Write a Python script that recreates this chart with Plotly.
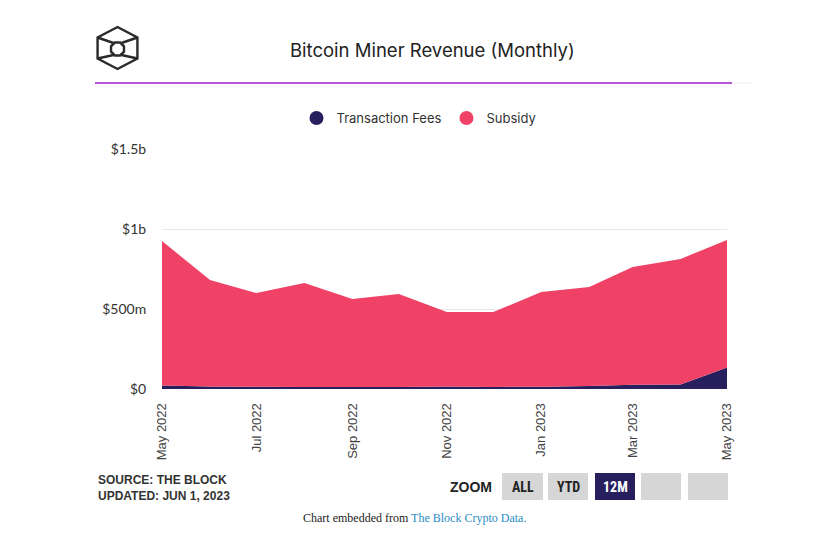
import plotly.graph_objects as go
import math

months = ["2022-05-01", "2022-06-01", "2022-07-01", "2022-08-01", "2022-09-01",
          "2022-10-01", "2022-11-01", "2022-12-01", "2023-01-01", "2023-02-01",
          "2023-03-01", "2023-04-01", "2023-05-01"]
# monthly totals (USD) and fees
totals = [925e6, 681e6, 600e6, 663e6, 563e6, 594e6, 481e6, 481e6, 606e6, 638e6, 763e6, 813e6, 931e6]
fees = [22e6, 16e6, 14e6, 12e6, 12e6, 12e6, 15e6, 13e6, 14e6, 18e6, 27e6, 28e6, 135e6]
subsidy = [t - f for t, f in zip(totals, fees)]

y_tickvals = [0, 5e8, 1e9, 1.5e9]
y_ticktext = ["$0", "$500m", "$1b", "$1.5b"]

NAVY = "#28205e"
PINK = "#ef4266"

OFF = 8  # page body margin
W, H = 829 - OFF, 553 - OFF
L, R, T, B = 162, 727, 149, 389  # screen pixel positions of the plot area


def xp(px):
    return (px - L) / (R - L)


def yp(py):
    return (B - py) / (B - T)


fig = go.Figure()
fig.add_trace(go.Scatter(x=months, y=fees, name="Transaction Fees", stackgroup="one",
                         mode="none", fillcolor=NAVY, showlegend=False, hoverinfo="skip"))
fig.add_trace(go.Scatter(x=months, y=subsidy, name="Subsidy", stackgroup="one",
                         mode="none", fillcolor=PINK, showlegend=False, hoverinfo="skip"))
# legend markers
fig.add_trace(go.Scatter(x=[None], y=[None], mode="markers", name="Transaction Fees",
                         marker=dict(color=NAVY, size=14, symbol="circle")))
fig.add_trace(go.Scatter(x=[None], y=[None], mode="markers", name="Subsidy",
                         marker=dict(color=PINK, size=14, symbol="circle")))

shapes = []
# purple divider
shapes.append(dict(type="line", xref="paper", yref="paper", x0=xp(732), x1=xp(752), y0=yp(83), y1=yp(83),
                   line=dict(color="#eeeeee", width=1)))
shapes.append(dict(type="line", xref="paper", yref="paper", x0=xp(95), x1=xp(732), y0=yp(83), y1=yp(83),
                   line=dict(color="#b455d8", width=2)))

# logo
LOGO = "#2a2a2a"
cx, cy, rx, ry = 117.5, 48, 23, 21
outer = [(cx + rx * math.cos(math.radians(a)), cy - ry * math.sin(math.radians(a))) for a in (90, 30, -30, -90, -150, 150)]
path = "M " + " L ".join(f"{xp(x):.5f},{yp(y):.5f}" for x, y in outer) + " Z"
shapes.append(dict(type="path", xref="paper", yref="paper", path=path, line=dict(color=LOGO, width=2.4)))
ri = 7
inner = [(cx + ri * math.cos(math.radians(a)), cy + 1 - ri * math.sin(math.radians(a)))
         for a in (67.5, 22.5, -22.5, -67.5, -112.5, -157.5, 157.5, 112.5)]
path = "M " + " L ".join(f"{xp(x):.5f},{yp(y):.5f}" for x, y in inner) + " Z"
shapes.append(dict(type="path", xref="paper", yref="paper", path=path, line=dict(color=LOGO, width=2.4)))
links = [(5, (cx - 4, cy - 5)), (1, (cx + 4, cy - 5)), (4, (cx - 4, cy + 7)), (2, (cx + 4, cy + 7))]
for i, (ix, iy) in links:
    shapes.append(dict(type="line", xref="paper", yref="paper", x0=xp(outer[i][0]), y0=yp(outer[i][1]),
                       x1=xp(ix), y1=yp(iy), line=dict(color=LOGO, width=2.4)))

# zoom buttons
buttons = [("ALL", 502, 543, "#d6d6d6", "#222"), ("YTD", 548, 588, "#d6d6d6", "#222"),
           ("12M", 595, 635, "#28205e", "#ffffff"), ("", 641, 681, "#d6d6d6", "#222"),
           ("", 688, 728, "#d6d6d6", "#222")]
annotations = []
for label, x0, x1, fill, fc in buttons:
    shapes.append(dict(type="rect", xref="paper", yref="paper", x0=xp(x0), x1=xp(x1), y0=yp(473), y1=yp(500),
                       fillcolor=fill, line=dict(width=0), layer="above"))
    if label:
        annotations.append(dict(text=f"<b>{label}</b>", xref="paper", yref="paper", x=xp((x0 + x1) / 2),
                                y=yp(487), xanchor="center", yanchor="middle", showarrow=False,
                                font=dict(family="Liberation Sans Narrow, Roboto Condensed, Liberation Sans",
                                          size=14, color=fc)))

annotations += [
    dict(text="Bitcoin Miner Revenue (Monthly)", xref="paper", yref="paper", x=xp(432), y=yp(50),
         xanchor="center", yanchor="middle", showarrow=False,
         font=dict(family="Inter, Roboto", size=18.5, color="#222222")),
    dict(text="<b>ZOOM</b>", xref="paper", yref="paper", x=xp(494), y=yp(487), xanchor="right",
         yanchor="middle", showarrow=False,
         font=dict(family="Liberation Sans Narrow, Liberation Sans", size=14, color="#222")),
    dict(text="<b>SOURCE: THE BLOCK<br>UPDATED: JUN 1, 2023</b>", xref="paper", yref="paper",
         x=xp(96), y=yp(488), xanchor="left", yanchor="middle", align="left", showarrow=False,
         font=dict(family="Liberation Sans Narrow, Liberation Sans", size=12, color="#333333")),
    dict(text="Chart embedded from <span style='color:#2b8cc4'>The Block Crypto Data.</span>",
         xref="paper", yref="paper", x=xp(414), y=yp(518), xanchor="center", yanchor="middle",
         showarrow=False, font=dict(family="Liberation Serif", size=12, color="#222222")),
]

fig.update_layout(
    width=W, height=H,
    margin=dict(l=L - OFF, r=W - (R - OFF), t=T - OFF, b=H - (B - OFF)),
    paper_bgcolor="white", plot_bgcolor="white",
    showlegend=True,
    legend=dict(orientation="h", x=xp(419), y=yp(118), xanchor="center", yanchor="middle",
                traceorder="normal",
                font=dict(family="Inter, Roboto", size=13, color="#333333"), itemwidth=30,
                bgcolor="rgba(0,0,0,0)"),
    xaxis=dict(type="date", range=[months[0], months[-1]], dtick="M2", tick0=months[0],
               tickformat="%b %Y", tickangle=-90, showgrid=False, zeroline=False, showline=False,
               ticks="outside", ticklen=8, tickcolor="rgba(0,0,0,0)",
               tickfont=dict(family="Liberation Sans", size=13, color="#444444")),
    yaxis=dict(range=[0, 1.5e9], tickvals=y_tickvals, ticktext=y_ticktext, showgrid=True,
               gridcolor="#e8e8e8", gridwidth=1, zeroline=False, showline=False,
               ticks="outside", ticklen=12, tickcolor="rgba(0,0,0,0)",
               tickfont=dict(family="Lato, Liberation Sans", size=14, color="#333333")),
    shapes=shapes,
    annotations=annotations,
)

fig.write_html("out.html")
